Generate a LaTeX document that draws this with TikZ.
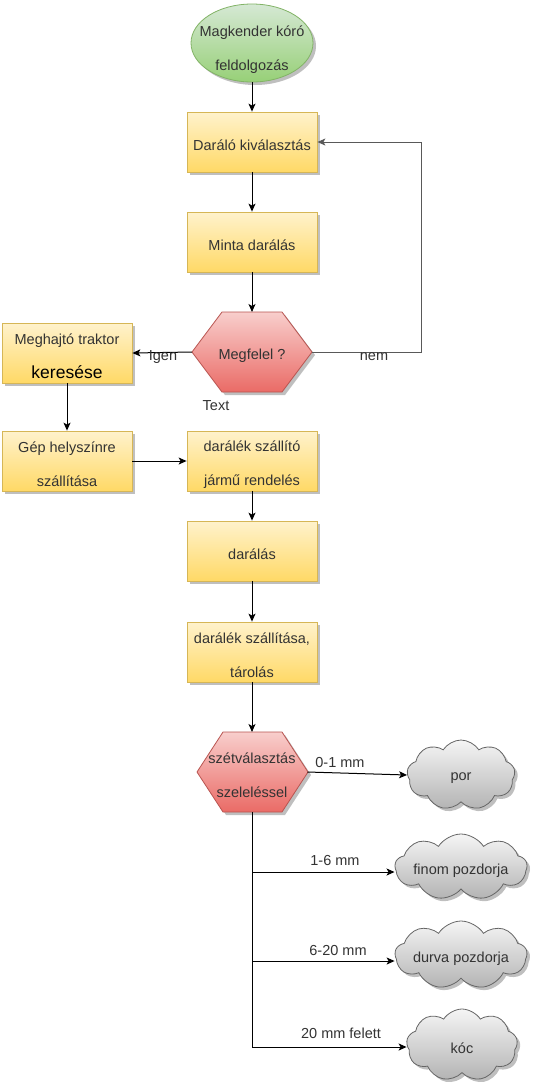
\documentclass[tikz,border=0pt]{standalone}
\usepackage{fontspec}
\setmainfont{Liberation Sans}
\usetikzlibrary{shapes.geometric,shapes.symbols,shadows,arrows.meta,calc}
\definecolor{boxtop}{HTML}{FFF2CC}
\definecolor{boxbot}{HTML}{FFD966}
\definecolor{boxline}{HTML}{D6B656}
\definecolor{hextop}{HTML}{F8CECC}
\definecolor{hexbot}{HTML}{EA6B66}
\definecolor{hexline}{HTML}{B85450}
\definecolor{elltop}{HTML}{D5E8D4}
\definecolor{ellbot}{HTML}{97D077}
\definecolor{ellline}{HTML}{82B366}
\definecolor{cloudtop}{HTML}{F5F5F5}
\definecolor{cloudbot}{HTML}{B3B3B3}
\definecolor{cloudline}{HTML}{666666}
\definecolor{txt}{HTML}{333333}
\begin{document}
\begin{tikzpicture}[x=1pt,y=-1pt,
  every node/.style={font=\fontsize{14.5}{17}\selectfont, text=txt},
  two/.style={font=\fontsize{14.5}{34}\selectfont, align=center},
  tx/.style={two, inner sep=0pt, yshift=-3.5pt},
  shad/.style={drop shadow={shadow xshift=3pt,shadow yshift=-3pt,opacity=1,fill=black!25}},
  procbox/.style={rectangle, minimum width=130pt, minimum height=60pt, inner sep=0pt,
    top color=boxtop, bottom color=boxbot, draw=boxline, line width=0.8pt, shad},
  startell/.style={ellipse, minimum width=122pt, minimum height=78pt, inner sep=0pt,
    top color=elltop, bottom color=ellbot, draw=ellline, line width=0.8pt, shad},
  hexsty/.style={top color=hextop, bottom color=hexbot, draw=hexline, line width=0.8pt, shad},
  hexnode/.style={rectangle, inner sep=0pt, outer sep=0pt, minimum height=80pt},
  cloudsty/.style={cloud, cloud puffs=9, cloud puff arc=115, cloud ignores aspect, inner sep=0pt,
    top color=cloudtop, bottom color=cloudbot, draw=cloudline, line width=0.8pt, shad},
  conn/.style={draw=black, line width=1pt, -{Stealth[length=8pt,width=7pt,inset=2pt]}},
  lbl/.style={text=txt, inner sep=0pt}
]
\useasboundingbox (0,0) rectangle (536,1088);

% start
\node[startell] (S) at (252,43) {};
\node[tx] (St) at (252,46) {Magkender kóró\\feldolgozás};

% boxes
\node[procbox] (B1) at (252,142) {};
\node[tx] (B1t) at (B1) {Daráló kiválasztás};
\node[procbox] (B2) at (252,242) {};
\node[tx] (B2t) at (B2) {Minta darálás};

% hexagon 1
\coordinate (h1c) at (252,352);
\shade[hexsty] ($(h1c)+(-60,0)$) -- ($(h1c)+(-30,-40)$) -- ($(h1c)+(30,-40)$) -- ($(h1c)+(60,0)$)
  -- ($(h1c)+(30,40)$) -- ($(h1c)+(-30,40)$) -- cycle;
\node[hexnode, minimum width=120pt] (H1) at (h1c) {};
\node[tx] (H1t) at (H1) {Megfelel ?};

\node[procbox] (B3) at (67,353) {};
\node[tx] (B3t) at (B3) {Meghajtó traktor\\{\fontsize{17.5}{20}\selectfont\color{black}keresése}};
\node[procbox] (B4) at (67,461) {};
\node[tx] (B4t) at (B4) {Gép helyszínre\\szállítása};
\node[procbox] (B5) at (252,461) {};
\node[tx] (B5t) at (B5) {darálék szállító\\jármű rendelés};
\node[procbox] (B6) at (252,551) {};
\node[tx] (B6t) at (B6) {darálás};
\node[procbox] (B7) at (252,652) {};
\node[tx] (B7t) at (B7) {darálék szállítása,\\tárolás};

% hexagon 2
\coordinate (h2c) at (252,772);
\shade[hexsty] ($(h2c)+(-55,0)$) -- ($(h2c)+(-29,-40)$) -- ($(h2c)+(30,-40)$) -- ($(h2c)+(56,0)$)
  -- ($(h2c)+(30,40)$) -- ($(h2c)+(-29,40)$) -- cycle;
\node[hexnode, minimum width=111pt] (H2) at (h2c) {};
\node[tx] (H2t) at (H2) {szétválasztás\\szeleléssel};

% clouds
\node[cloudsty, minimum width=108pt, minimum height=70pt] (C1) at (461,775) {};
\node[tx] (C1t) at (C1) {por};
\node[cloudsty, minimum width=132pt, minimum height=66pt] (C2) at (461,867) {};
\node[tx] (C2t) at (C2) {finom pozdorja};
\node[cloudsty, minimum width=132pt, minimum height=68pt] (C3) at (461,955) {};
\node[tx] (C3t) at (C3) {durva pozdorja};
\node[cloudsty, minimum width=111pt, minimum height=72pt] (C4) at (462,1045) {};
\node[tx] (C4t) at (C4) {kóc};

% connectors
\draw[conn] (S) -- (B1);
\draw[conn] (B1) -- (B2);
\draw[conn] (B2) -- (H1);
\coordinate (fb) at (421,142);
\draw[conn, draw=black!65] (H1.east) -| (fb) -- (B1.east);
\draw[conn] (H1.west) -- (B3.east);
\draw[conn] (B3) -- (B4);
\draw[conn] (B4) -- (B5);
\draw[conn] (B5) -- (B6);
\draw[conn] (B6) -- (B7);
\draw[conn] (B7) -- (H2);
\draw[conn] (H2.east) -- (C1.west);
\coordinate (j1) at (252,872);
\coordinate (j2) at (252,961);
\coordinate (j3) at (252,1047);
\draw[line width=1pt] (H2.south) -- (j3);
\draw[conn] (j1) -- (j1 -| C2.west);
\draw[conn] (j2) -- (j2 -| C3.west);
\draw[conn] (j3) -- (j3 -| C4.west);

% labels
\node[lbl] (Ligen) at (163,357) {Igen};
\node[lbl] (Lnem) at (374,357) {nem};
\node[lbl] (Ltext) at (216,406) {Text};
\node[lbl] (L1) at (340,762) {0-1 mm};
\node[lbl] (L2) at (335,860) {1-6 mm};
\node[lbl] (L3) at (338,950) {6-20 mm};
\node[lbl] (L4) at (341,1033) {20 mm felett};
\end{tikzpicture}
\end{document}
